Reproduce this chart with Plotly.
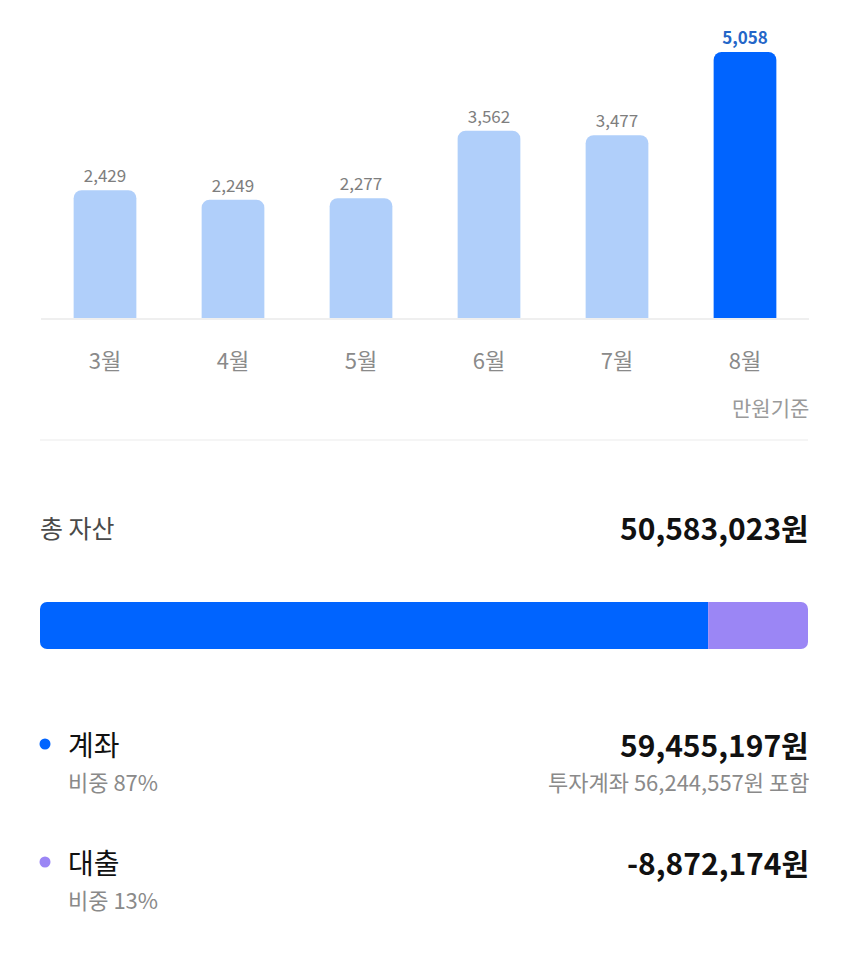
import plotly.graph_objects as go

months = ["3월", "4월", "5월", "6월", "7월", "8월"]
monthly_values = [2429, 2249, 2277, 3562, 3477, 5058]
unit_label = "만원기준"

total_label = "총 자산"
total_assets = 50583023
categories = ["계좌", "대출"]
category_values = [59455197, -8872174]
category_shares = [87, 13]
invest_note_value = 56244557

OFF = 8  # page body margin
W, H = 850 - OFF, 959 - OFF
FONT = "Noto Sans CJK KR, Noto Sans, sans-serif"
BLUE = "#0064FF"
LIGHT = "#B0CFFA"
PURPLE = "#9B86F5"

def px(p):
    return (p - OFF) / W

def py(p):
    return 1 - (p - OFF) / H

fig = go.Figure()

n = len(months)
bar_colors = [LIGHT] * (n - 1) + [BLUE]
label_colors = ["#7E7E7E"] * (n - 1) + ["#2466C8"]
templates = ["%{y:,}"] * (n - 1) + ["<b>%{y:,}</b>"]
fig.add_trace(go.Bar(
    x=months, y=monthly_values,
    marker=dict(color=bar_colors, cornerradius=8, line=dict(width=0)),
    width=0.49,
    texttemplate=templates, textposition="outside",
    textfont=dict(size=17, color=label_colors, family=FONT),
    cliponaxis=False, hoverinfo="skip",
    xaxis="x", yaxis="y",
))

# share bar: account share drawn leftwards from the split, loan share rightwards
fig.add_trace(go.Bar(
    y=[0], x=[-category_shares[0]], orientation="h",
    marker=dict(color=BLUE, cornerradius=7, line=dict(width=0)),
    width=1, xaxis="x2", yaxis="y2", hoverinfo="skip",
))
fig.add_trace(go.Bar(
    y=[0], x=[category_shares[1]], orientation="h",
    marker=dict(color=PURPLE, cornerradius=7, line=dict(width=0)),
    width=1, xaxis="x2", yaxis="y2", hoverinfo="skip",
))

x0, x1 = px(41), px(809)
base_px, top_px = 318, 20
ymax = monthly_values[-1] * (base_px - top_px) / (base_px - 52)

fig.update_layout(
    width=W, height=H, margin=dict(l=0, r=0, t=0, b=0),
    paper_bgcolor="white", plot_bgcolor="white",
    showlegend=False, barmode="relative",
    font=dict(family=FONT),
    xaxis=dict(domain=[x0, x1], showgrid=False, zeroline=False,
               showline=True, linecolor="#EFEFEF", linewidth=1.5,
               ticks="", tickfont=dict(size=22, color="#8A8A8A", family=FONT),
               ticklabelstandoff=23, fixedrange=True),
    yaxis=dict(domain=[py(base_px), py(top_px)], range=[0, ymax],
               visible=False, fixedrange=True),
    xaxis2=dict(domain=[px(40), px(808)], range=[-category_shares[0], category_shares[1]],
                visible=False, anchor="y2"),
    yaxis2=dict(domain=[py(649), py(602)], range=[-0.5, 0.5], visible=False, anchor="x2"),
)

def ann(text, x, y, size, color, anchor="left", bold=False):
    if bold:
        text = f"<b>{text}</b>"
    fig.add_annotation(text=text, x=px(x), y=py(y), xref="paper", yref="paper",
                       xanchor=anchor, yanchor="middle", showarrow=False,
                       font=dict(size=size, color=color, family=FONT))

ann(unit_label, 811, 407, 21, "#9A9A9A", "right")
fig.add_shape(type="line", xref="paper", yref="paper", x0=px(40), x1=px(808),
              y0=py(440), y1=py(440), line=dict(color="#F2F2F2", width=1.5))

ann(total_label, 38, 527, 25, "#4A4A4A")
ann(f"{total_assets:,}원", 811, 527, 30, "#111111", "right", True)

dot_colors = [BLUE, PURPLE]
rows = [744, 862]
for i, cat in enumerate(categories):
    yc = rows[i]
    r = 5.5
    fig.add_shape(type="circle", xref="paper", yref="paper",
                  x0=px(45 - r), x1=px(45 + r), y0=py(yc + r), y1=py(yc - r),
                  fillcolor=dot_colors[i], line=dict(width=0))
    ann(cat, 66, yc, 28, "#111111")
    ann(f"{category_values[i]:,}원", 811, yc, 30, "#111111", "right", True)
    ann(f"비중 {category_shares[i]}%", 66, yc + 37, 22, "#8A8A8A")

ann(f"투자계좌 {invest_note_value:,}원 포함", 811, 781, 22, "#8A8A8A", "right")

fig.write_html("out.html")
